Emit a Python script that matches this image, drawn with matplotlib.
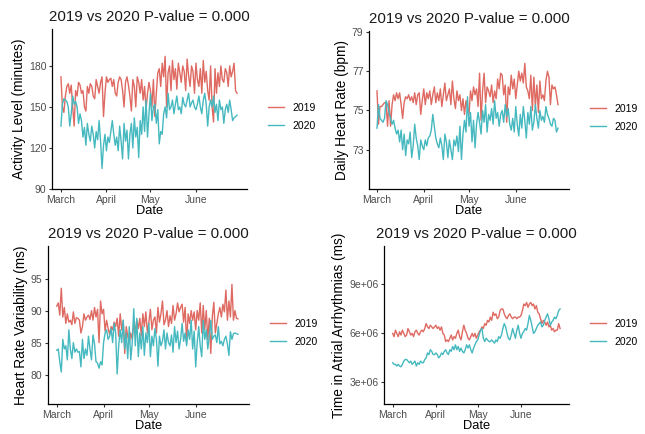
"""Four panels comparing daily 2019 and 2020 wearable metrics (March to June)."""

import matplotlib

matplotlib.use("Agg")  # No display in the sandbox.

import matplotlib.dates as mdates
import matplotlib.pyplot as plt
import numpy as np
import pandas as pd

plt.rcParams["font.family"] = ["Liberation Sans", "DejaVu Sans"]

# ---- data (one value per day from 1 March) ----
dates = pd.date_range("2020-03-01", periods=121, freq="D")
series_labels = ["2019", "2020"]
month_ticks = ["2020-03-01", "2020-04-01", "2020-05-01", "2020-06-01"]
month_labels = ["March", "April", "May", "June"]

activity_2019 = [
    172, 150, 146, 158, 165, 167, 160,
    166, 150, 136, 162, 158, 168, 166,
    160, 162, 150, 147, 165, 160, 167,
    165, 158, 156, 170, 165, 160, 168,
    172, 143, 160, 172, 168, 170, 171,
    165, 170, 160, 158, 168, 172, 170,
    162, 150, 168, 172, 166, 158, 147,
    170, 165, 150, 172, 168, 160, 170,
    155, 165, 148, 160, 168, 162, 150,
    170, 143, 160, 175, 178, 165, 182,
    172, 187, 150, 175, 180, 162, 184,
    170, 178, 163, 182, 175, 168, 180,
    176, 162, 185, 173, 165, 180, 176,
    160, 182, 170, 165, 178, 160, 184,
    168, 176, 162, 155, 180, 150, 139,
    178, 160, 175, 165, 180, 170, 168,
    178, 175, 165, 180, 172, 176, 182,
    162, 160,
]
activity_2020 = [
    136, 152, 156, 155, 154, 150, 136,
    145, 158, 152, 154, 150, 138, 145,
    140, 128, 135, 122, 138, 130, 125,
    136, 130, 120, 132, 126, 140, 125,
    105, 122, 130, 118, 128, 124, 132,
    140, 130, 122, 128, 118, 136, 125,
    112, 138, 125, 133, 112, 130, 138,
    120, 142, 128, 135, 113, 140, 130,
    150, 132, 155, 128, 145, 160, 140,
    150, 152, 138, 148, 123, 132, 130,
    145, 150, 142, 160, 148, 150, 155,
    145, 152, 158, 148, 150, 145, 157,
    152, 150, 155, 160, 150, 153, 155,
    150, 148, 152, 158, 150, 145, 155,
    160, 152, 136, 150, 155, 150, 158,
    146, 152, 140, 155, 148, 150, 138,
    148, 152, 146, 155, 148, 140, 142,
    143, 144,
]

heart_rate_2019 = [
    76.0, 74.3, 75.2, 75.2, 75.3, 75.4, 75.4,
    74.2, 75.5, 74.2, 75.3, 75.8, 75.5, 75.9,
    75.6, 75.9, 75.3, 74.6, 75.4, 75.7, 75.6,
    75.8, 75.5, 75.7, 75.4, 75.9, 75.3, 75.8,
    75.9, 74.8, 75.5, 76.1, 75.3, 75.9, 75.6,
    76.0, 75.3, 75.8, 76.2, 75.4, 75.9, 75.5,
    76.1, 75.2, 75.8, 76.4, 75.5, 75.8, 76.1,
    75.3, 76.5, 75.6, 75.1, 76.0, 75.5, 75.8,
    75.0, 75.6, 74.8, 75.5, 75.1, 74.8, 76.0,
    75.5, 76.2, 75.8, 76.1, 75.2, 76.9, 74.5,
    76.0, 76.9, 75.4, 76.2, 76.0, 75.7, 76.3,
    75.4, 76.0, 75.6, 76.6, 76.1, 76.9, 76.8,
    75.8, 76.3, 74.4, 76.2, 75.8, 76.8, 76.1,
    76.6, 75.6, 76.3, 77.0, 76.5, 76.9, 76.4,
    77.4, 76.2, 76.0, 75.6, 76.8, 75.0, 76.7,
    75.2, 76.3, 74.9, 76.5, 75.6, 75.8, 75.5,
    76.5, 77.0, 76.7, 75.3, 76.3, 76.1, 76.2,
    75.8, 75.3,
]
heart_rate_2020 = [
    74.1, 75.3, 74.6, 74.5, 74.4, 74.6, 75.5,
    75.3, 74.9, 74.6, 74.3, 74.5, 74.1, 73.8,
    74.0, 73.4, 74.0, 73.0, 73.8, 72.7, 73.5,
    73.3, 73.9, 72.6, 73.2, 74.3, 73.6, 73.2,
    72.5, 73.5, 73.2, 73.0, 73.5, 73.2, 73.6,
    73.7, 74.0, 74.8, 74.2, 73.6, 73.3, 73.1,
    73.6, 73.2, 72.5, 73.8, 73.4, 72.6, 73.5,
    73.0, 72.5, 73.5, 73.2, 73.7, 72.9, 74.2,
    72.5, 73.8, 74.5, 73.9, 75.7, 74.2, 74.9,
    73.4, 74.5, 73.1, 74.3, 74.9, 74.4, 73.8,
    75.0, 74.4, 75.3, 73.9, 74.8, 74.5, 75.1,
    74.3, 75.5, 74.6, 74.9, 74.2, 74.8, 75.0,
    74.4, 75.3, 74.7, 75.1, 74.3, 74.0, 74.6,
    73.9, 75.2, 74.3, 73.7, 74.8, 74.1, 75.2,
    74.5, 73.6, 74.9, 74.3, 75.2, 74.0, 74.4,
    75.3, 74.6, 74.1, 75.0, 74.5, 74.7, 74.4,
    75.2, 74.8, 74.6, 74.3, 74.2, 74.6, 74.5,
    73.9, 74.1,
]

hrv_2019 = [
    90.7, 91.2, 89.3, 93.5, 89.0, 90.5, 88.0,
    89.5, 88.2, 88.5, 87.8, 89.8, 88.0, 88.9,
    88.8, 88.5, 86.5, 87.5, 89.5, 88.5, 89.0,
    89.3, 88.6, 90.0, 88.5, 90.5, 89.0, 90.2,
    85.0, 91.5, 89.5, 90.2, 86.8, 88.5, 87.2,
    86.3, 87.5, 87.0, 88.2, 87.5, 88.8, 86.0,
    89.5, 87.0, 88.5, 83.3, 87.5, 86.0, 85.0,
    86.5, 85.5, 88.0, 86.8, 88.5, 87.2, 88.8,
    86.0, 89.5, 87.5, 89.8, 86.5, 88.2, 90.2,
    87.0, 88.5, 89.0, 86.5, 90.5, 88.2, 89.5,
    91.5, 87.8, 88.5, 90.0, 87.5, 89.2, 88.0,
    90.8, 88.5, 89.5, 91.2, 89.8, 90.5, 91.0,
    88.2, 90.5, 85.0, 89.5, 88.0, 90.0, 88.5,
    89.8, 87.0, 90.0, 88.5, 91.2, 86.5, 90.8,
    87.0, 90.0, 85.5, 88.8, 83.3, 89.0, 91.3,
    86.5, 88.0, 89.5, 90.5, 89.0, 91.0, 89.8,
    93.2, 88.5, 91.5, 89.0, 94.1, 88.5, 90.0,
    88.8, 88.7,
]
hrv_2020 = [
    83.8, 84.0, 82.0, 80.4, 85.5, 84.0, 84.5,
    82.3, 87.0, 84.0, 82.5, 85.0, 83.5, 84.0,
    83.5, 83.6, 81.2, 85.5, 82.5, 84.0, 83.0,
    86.0, 84.0, 82.3, 86.2, 84.8, 82.0, 81.8,
    81.0, 82.0, 81.5, 85.0, 86.5, 87.0, 85.5,
    86.0, 87.2, 85.0, 88.0, 86.5, 80.1, 84.5,
    87.0, 85.0, 88.5, 84.0, 86.5, 82.5, 87.5,
    82.3, 85.0, 90.3, 84.5, 88.8, 82.8, 86.5,
    84.0, 87.5, 83.0, 86.5, 85.0, 88.0, 82.8,
    86.0, 84.5, 87.2, 85.5, 81.3, 86.0, 84.5,
    85.2, 87.0, 84.0, 86.5, 85.0, 84.5, 86.2,
    83.5, 87.5, 85.0, 86.8, 84.0, 85.5, 88.0,
    85.2, 86.5, 84.5, 87.0, 85.5, 88.5, 84.0,
    86.8, 81.2, 85.0, 87.5, 84.5, 82.8, 88.5,
    85.5, 87.0, 84.0, 86.0, 88.5, 85.5, 86.0,
    86.2, 85.0, 87.5, 84.8, 85.2, 84.5, 85.5,
    86.0, 84.8, 83.0, 86.7, 85.5, 86.4, 86.5,
    86.4, 86.3,
]

# atrial arrhythmia time, in millions of ms
afib_2019_millions = [
    6.0, 5.8, 6.2, 6.0, 5.8, 6.1, 5.9,
    6.2, 6.0, 5.8, 5.9, 6.3, 6.1, 5.9,
    6.0, 5.8, 6.1, 6.2, 6.0, 5.9, 6.1,
    6.2, 6.1, 6.3, 6.6, 6.4, 6.3, 6.5,
    6.4, 6.3, 6.4, 6.5, 6.3, 6.4, 6.2,
    6.4, 6.0, 5.9, 5.5, 5.6, 5.5, 5.7,
    5.9, 5.6, 5.8, 5.7, 6.0, 6.2, 5.8,
    5.6, 6.1, 6.5, 6.2, 6.0, 5.7, 5.6,
    5.8, 6.0, 5.8, 6.0, 5.7, 5.9, 6.1,
    6.2, 6.4, 6.3, 6.6, 6.5, 6.8, 6.7,
    7.0, 6.8, 7.3, 7.1, 7.2, 6.9, 7.0,
    7.4, 7.5, 7.5, 7.2, 7.0, 6.9, 7.1,
    7.2, 7.0, 6.9, 7.0, 7.0, 6.9, 7.0,
    7.0, 7.1, 7.4, 7.8, 7.7, 7.9, 7.6,
    7.8, 7.9, 7.7, 7.8, 7.5, 7.7, 7.3,
    7.2, 6.9, 6.6, 6.8, 6.7, 6.5, 6.7,
    6.4, 6.5, 6.2, 6.3, 6.1, 6.2, 6.2,
    6.6, 6.3,
]
afib_2020_millions = [
    4.2, 4.1, 4.1, 4.0, 4.1, 4.0, 3.95,
    4.1, 4.3, 4.4, 4.4, 4.3, 4.2, 4.3,
    4.1, 4.2, 4.3, 4.0, 4.2, 4.1, 4.3,
    4.2, 4.2, 4.4, 4.5, 4.8, 4.7, 5.0,
    4.9, 4.7, 4.7, 4.8, 4.7, 4.5, 4.6,
    4.8, 4.7, 4.9, 5.0, 4.8, 4.7, 5.0,
    4.9, 5.2, 5.0, 5.3, 5.0, 5.2, 4.9,
    5.1, 4.9, 4.8, 5.0, 5.3, 5.1, 5.3,
    5.0, 4.8, 5.1, 5.3, 5.5, 5.6, 5.9,
    6.2, 6.3, 5.7, 5.5, 5.7, 5.6, 5.5,
    5.5, 5.6, 5.5, 5.4, 5.6, 5.5, 5.8,
    5.7, 5.9, 6.3, 6.6, 6.4, 6.0, 5.7,
    5.6, 5.9, 6.3, 6.0, 5.7, 6.2, 6.5,
    6.0, 5.7, 6.0, 6.1, 6.3, 6.2, 6.6,
    7.1, 6.8, 6.4, 6.0, 6.1, 6.3, 6.5,
    6.6, 6.7, 6.4, 6.5, 6.8, 7.0, 7.2,
    6.9, 6.5, 6.7, 6.8, 7.0, 6.9, 7.1,
    7.4, 7.5,
]

COLORS = ["#DE6A62", "#45B9BF"]  # ggplot's default hue pair, a touch muted
TICK_GREY = "#4D4D4D"


def draw_panel(rect, y2019, y2020, ylabel, ylim, yticks, ytick_labels, xpad):
    """Draw one theme_classic-looking panel in figure pixel coordinates."""
    left, top, right, bottom = rect
    ax = fig.add_axes([left / W, 1 - bottom / H, (right - left) / W, (bottom - top) / H])
    for values, label, color in zip([y2019, y2020], series_labels, COLORS):
        ax.plot(dates, values, color=color, lw=1.0, label=label)

    start = dates[0]
    ax.set_xlim(start - pd.Timedelta(days=xpad[0]), start + pd.Timedelta(days=xpad[1]))
    ax.set_xticks(pd.to_datetime(month_ticks))
    ax.set_xticklabels(month_labels)
    ax.set_ylim(*ylim)
    ax.set_yticks(yticks)
    ax.set_yticklabels(ytick_labels)

    for side in ["top", "right"]:
        ax.spines[side].set_visible(False)
    for side in ["left", "bottom"]:
        ax.spines[side].set_linewidth(0.9)
        ax.spines[side].set_color("black")
    ax.tick_params(length=2.5, width=0.8, color="#333333", labelsize=7.5,
                   labelcolor=TICK_GREY, pad=1.5)

    ax.set_title("2019 vs 2020 P-value = 0.000", fontsize=10.8, pad=6, color="#1A1A1A")
    ax.set_xlabel("Date", fontsize=9.3, labelpad=0)
    ax.set_ylabel(ylabel, fontsize=9.8, labelpad=2)

    gap = 21 / (right - left)
    ax.legend(loc="center left", bbox_to_anchor=(1 + gap, 0.45), frameon=False,
              fontsize=7.5, handlelength=1.5, handletextpad=0.8, labelspacing=0.75,
              borderaxespad=0, borderpad=0)
    return ax


W, H = 645, 434
fig = plt.figure(figsize=(W / 100, H / 100), dpi=100)

draw_panel((52, 29, 247, 189), activity_2019, activity_2020,
           "Activity Level (minutes)", (90, 207), [90, 120, 150, 180],
           ["90", "120", "150", "180"], (6.1, 126.8))
draw_panel((369, 31, 569, 189), heart_rate_2019, heart_rate_2020,
           "Daily Heart Rate (bpm)", (71.0, 79.05), [73, 75, 77, 79],
           ["73", "75", "77", "79"], (5.3, 127.3))
draw_panel((48, 246, 249, 404), hrv_2019, hrv_2020,
           "Heart Rate Variability (ms)", (75.4, 100.1), [80, 85, 90, 95],
           ["80", "85", "90", "95"], (5.8, 127.3))
draw_panel((384, 246, 569, 404), np.array(afib_2019_millions) * 1e6,
           np.array(afib_2020_millions) * 1e6,
           "Time in Atrial Arrhythmias (ms)", (1.67e6, 11.36e6), [3e6, 6e6, 9e6],
           ["3e+06", "6e+06", "9e+06"], (6.2, 126.4))

fig.savefig("out.png", dpi=100)
plt.close(fig)
